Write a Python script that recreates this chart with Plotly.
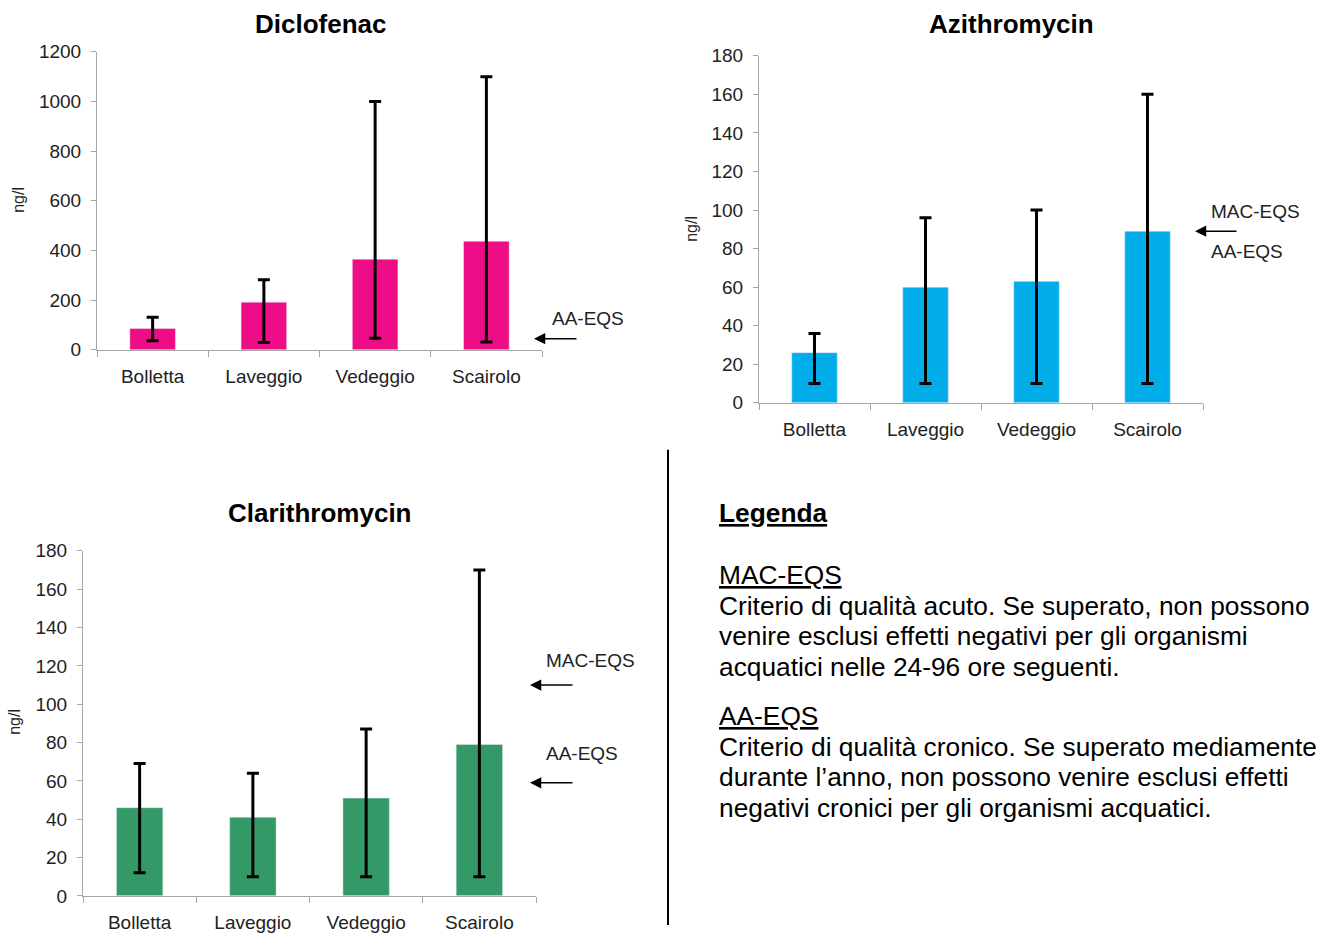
import plotly.graph_objects as go

W, H = 1342, 936
FONT = "Arial, Liberation Sans, sans-serif"

sites = ["Bolletta", "Laveggio", "Vedeggio", "Scairolo"]

# Diclofenac (ng/l)
dic_mean = [86, 192, 365, 437]
dic_min = [37, 29, 47, 31]
dic_max = [131, 282, 1000, 1100]
dic_aa = 45

# Azithromycin (ng/l)
azi_mean = [26, 60, 63, 89]
azi_min = [10, 10, 10, 10]
azi_max = [36, 96, 100, 160]
azi_eqs = 89

# Clarithromycin (ng/l)
cla_mean = [46, 41, 51, 79]
cla_min = [12, 10, 10, 10]
cla_max = [69, 64, 87, 170]
cla_mac = 110
cla_aa = 59

colors = {"dic": "#EE0C87", "azi": "#00ADE9", "cla": "#339966"}


def px(x):
    return x / W


def py(y):
    # vertical position on the page (pixels from top) -> paper fraction
    yy = (y - 10.2) / 0.9775
    return 1 - yy / H


fig = go.Figure()


def add_bars(mean, mn, mx, color, xa, ya):
    fig.add_trace(go.Bar(
        x=sites, y=mean, marker_color=color, width=0.41,
        xaxis=xa, yaxis=ya, showlegend=False,
        error_y=dict(type="data", symmetric=False,
                     array=[b - a for a, b in zip(mean, mx)],
                     arrayminus=[a - b for a, b in zip(mean, mn)],
                     color="black", thickness=3, width=6),
    ))


add_bars(dic_mean, dic_min, dic_max, colors["dic"], "x", "y")
add_bars(azi_mean, azi_min, azi_max, colors["azi"], "x2", "y2")
add_bars(cla_mean, cla_min, cla_max, colors["cla"], "x3", "y3")

axis_common_x = dict(type="category", range=[-0.5, 3.5], showline=True,
                     linecolor="#A6A6A6", linewidth=1, ticks="outside",
                     tickson="boundaries", ticklen=6, tickcolor="#A6A6A6",
                     showgrid=False, zeroline=False, ticklabelstandoff=9,
                     tickfont=dict(family=FONT, size=19, color="#222"),
                     fixedrange=True)
axis_common_y = dict(showline=True, linecolor="#A6A6A6", linewidth=1,
                     ticks="outside", ticklen=5, tickcolor="#A6A6A6",
                     showgrid=False, zeroline=False, ticklabelstandoff=6,
                     tickfont=dict(family=FONT, size=19, color="#222"),
                     fixedrange=True)

fig.update_layout(
    width=W, height=H, margin=dict(l=0, r=0, t=0, b=0),
    paper_bgcolor="white", plot_bgcolor="white",
    xaxis=dict(axis_common_x, domain=[px(97), px(542)], anchor="y"),
    yaxis=dict(axis_common_y, domain=[py(350), py(52)], range=[0, 1200],
               dtick=200, anchor="x"),
    xaxis2=dict(axis_common_x, domain=[px(759), px(1203)], anchor="y2"),
    yaxis2=dict(axis_common_y, domain=[py(403), py(56)], range=[0, 180],
                dtick=20, anchor="x2"),
    xaxis3=dict(axis_common_x, domain=[px(83), px(536)], anchor="y3"),
    yaxis3=dict(axis_common_y, domain=[py(896), py(551)], range=[0, 180],
                dtick=20, anchor="x3"),
    bargap=0.59,
)

ann = []


def text(x, y, s, size, bold=False, xanchor="center", angle=0, color="black"):
    ann.append(dict(x=px(x), y=py(y), xref="paper", yref="paper",
                    text=("<b>%s</b>" % s) if bold else s, showarrow=False,
                    xanchor=xanchor, yanchor="middle", textangle=angle,
                    font=dict(family=FONT, size=size, color=color)))


# titles
text(321, 24, "Diclofenac", 26, bold=True)
text(1011, 24, "Azithromycin", 26, bold=True)
text(320, 513, "Clarithromycin", 26, bold=True)

# y-axis titles
text(19, 200, "ng/l", 16, angle=-90, color="#222")
text(692, 229, "ng/l", 16, angle=-90, color="#222")
text(15, 722, "ng/l", 16, angle=-90, color="#222")


def arrow(x_head, x_tail, yval, yref):
    ann.append(dict(x=px(x_head), y=yval, xref="paper", yref=yref,
                    ax=x_tail - x_head, ay=0, text="", showarrow=True,
                    arrowhead=2, arrowsize=1.5, arrowwidth=1.5,
                    arrowcolor="black", standoff=0, startstandoff=0))


# EQS marks
arrow(534, 578, dic_aa, "y")
text(550, 319, "AA-EQS", 19, xanchor="left", color="#222")

arrow(1195, 1238, azi_eqs, "y2")
text(1209, 212, "MAC-EQS", 19, xanchor="left", color="#222")
text(1209, 252, "AA-EQS", 19, xanchor="left", color="#222")

arrow(530, 574, cla_mac, "y3")
arrow(530, 574, cla_aa, "y3")
text(544, 661, "MAC-EQS", 19, xanchor="left", color="#222")
text(544, 754, "AA-EQS", 19, xanchor="left", color="#222")

# legend text block
LX = 717
LS = 26.3
text(LX, 513, "<u>Legenda</u>", LS, bold=True, xanchor="left")
text(LX, 575, "<u>MAC-EQS</u>", LS, xanchor="left")
legend_mac = ["Criterio di qualità acuto. Se superato, non possono",
              "venire esclusi effetti negativi per gli organismi",
              "acquatici nelle 24-96 ore seguenti."]
for i, line in enumerate(legend_mac):
    text(LX, 606 + i * 30.5, line, LS, xanchor="left")
text(LX, 716, "<u>AA-EQS</u>", LS, xanchor="left")
legend_aa = ["Criterio di qualità cronico. Se superato mediamente",
             "durante l’anno, non possono venire esclusi effetti",
             "negativi cronici per gli organismi acquatici."]
for i, line in enumerate(legend_aa):
    text(LX, 747 + i * 30.5, line, LS, xanchor="left")

fig.update_layout(annotations=ann)

# divider line
fig.add_shape(type="line", xref="paper", yref="paper",
              x0=px(668), x1=px(668), y0=0, y1=py(450),
              line=dict(color="black", width=2))

fig.write_html(
    "out.html", config={"displayModeBar": False},
    post_script=(
        "document.documentElement.style.margin='0';"
        "document.documentElement.style.overflow='hidden';"
        "document.body.style.margin='0';"
        "document.body.style.padding='0';"
        "document.body.style.overflow='hidden';"
    ),
)
